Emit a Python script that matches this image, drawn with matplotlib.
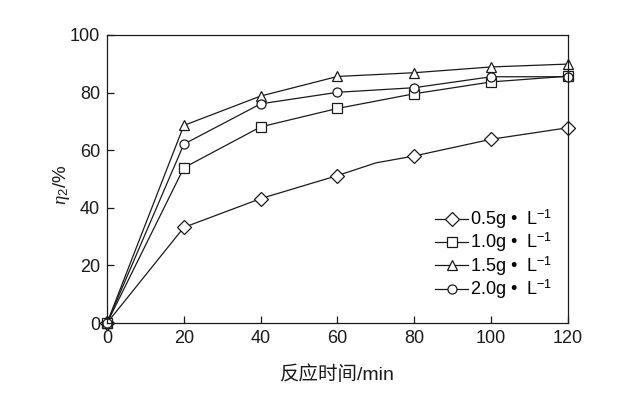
import numpy as np
import matplotlib.pyplot as plt

plt.rcParams['font.family'] = ['Liberation Sans', 'Noto Sans CJK SC', 'DejaVu Sans']
plt.rcParams['mathtext.fontset'] = 'custom'
plt.rcParams['mathtext.rm'] = 'Liberation Sans'
plt.rcParams['mathtext.it'] = 'Liberation Serif:italic'

# reaction time (min)
t = [0, 20, 40, 60, 80, 100, 120]
t_05 = [0, 20, 40, 60, 70, 80, 100, 120]   # 0.5 g/L curve has an extra unmarked point at 70

eta_05 = [0, 33.2, 43.2, 51.2, 55.6, 58.0, 63.8, 67.8]
eta_10 = [0, 53.9, 68.1, 74.5, 79.6, 83.7, 85.7]
eta_15 = [0, 68.6, 78.8, 85.6, 86.9, 88.9, 89.9]
eta_20 = [0, 62.1, 76.1, 80.1, 81.7, 85.5, 85.5]

labels = ['0.5g •  L$^{-1}$', '1.0g •  L$^{-1}$', '1.5g •  L$^{-1}$', '2.0g •  L$^{-1}$']

fig = plt.figure(figsize=(6.42, 3.93), dpi=100)
ax = fig.add_axes([0.1667, 0.178, 0.718, 0.733])

style = dict(color='#1a1a1a', lw=0.9, mfc='white', mec='#1a1a1a', mew=0.9, clip_on=False)
ax.plot(t_05, eta_05, marker='D', ms=7.5, markevery=[0, 1, 2, 3, 5, 6, 7], label=labels[0], **style)
ax.plot(t, eta_10, marker='s', ms=6.5, label=labels[1], **style)
ax.plot(t, eta_15, marker='^', ms=7, label=labels[2], **style)
ax.plot(t, eta_20, marker='o', ms=6.5, label=labels[3], **style)

ax.set_xlim(0, 120)
ax.set_ylim(0, 100)
ax.set_xticks(np.arange(0, 121, 20))
ax.set_yticks(np.arange(0, 101, 20))
ax.tick_params(direction='in', length=5, width=0.9, labelsize=13, colors='#1a1a1a', pad=5)
for s in ax.spines.values():
    s.set_linewidth(0.9)
    s.set_color('#1a1a1a')

ax.set_xlabel('反应时间/min', fontsize=14, color='#1a1a1a', labelpad=13)
ax.set_ylabel(r'$\eta_2$/%', fontsize=13.5, color='#1a1a1a')
ax.yaxis.set_label_coords(-0.077, 0.48)

ax.legend(loc='lower right', bbox_to_anchor=(0.985, 0.045), frameon=False, fontsize=13,
          handlelength=1.8, handletextpad=0.1, labelspacing=0.0, borderaxespad=0.3,
          borderpad=0.2)

fig.savefig('out.png', dpi=100)
